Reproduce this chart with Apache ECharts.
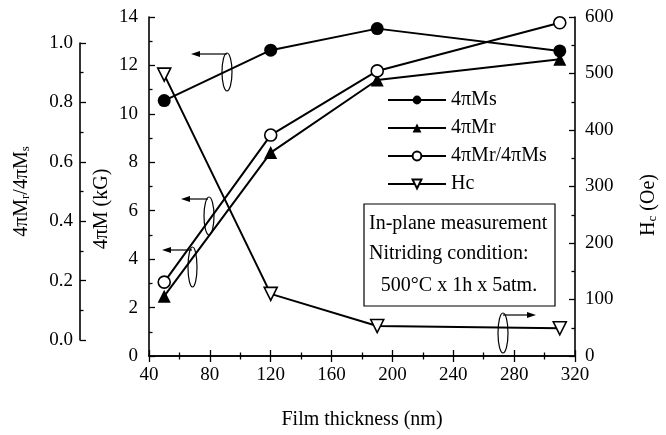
<!DOCTYPE html>
<html><head><meta charset="utf-8">
<script src="https://cdn.jsdelivr.net/npm/echarts@6/dist/echarts.min.js"></script>
<style>html,body{margin:0;padding:0;background:#fff}#c{width:666px;height:435px}</style>
</head><body><div id="c"></div>
<script>
var thickness = [50, 120, 190, 310];
var ms = [10.55, 12.63, 13.52, 12.6];
var mr = [2.47, 8.4, 11.4, 12.26];
var ratio = [0.195, 0.69, 0.906, 1.068];
var hc = [498, 110, 53, 49];
var xTicks = [40, 320, 40];
var names = ['4\u03c0Ms', '4\u03c0Mr', '4\u03c0Mr/4\u03c0Ms', 'Hc'];

function pairs(xs, ys) { return xs.map(function (x, i) { return [x, ys[i]]; }); }
var F = 'Liberation Serif';
var black = '#000';
function axisCommon(extra) {
  var a = {
    axisLine: { show: true, lineStyle: { color: black, width: 1.6 } },
    axisTick: { show: true, inside: true, length: 6, lineStyle: { color: black, width: 1.3 } },
    minorTick: { show: true, splitNumber: 2, length: 3.5, lineStyle: { color: black, width: 1.3 } },
    splitLine: { show: false },
    axisLabel: { color: black, fontFamily: F, fontSize: 19 }
  };
  for (var k in extra) a[k] = extra[k];
  return a;
}
var chart = echarts.init(document.getElementById('c'), null, { renderer: 'canvas' });
var lineStyle = { color: black, width: 2 };
chart.setOption({
  backgroundColor: '#fff',
  animation: false,
  grid: [
    { left: 149, right: 91, top: 17, bottom: 72 },
    { left: 149, right: 91, top: 43, bottom: 95 }
  ],
  xAxis: [
    axisCommon({ gridIndex: 0, type: 'value', min: xTicks[0], max: xTicks[1], interval: xTicks[2], position: 'bottom',
      axisLabel: { color: black, fontFamily: F, fontSize: 19, margin: 10 },
      name: 'Film thickness (nm)', nameLocation: 'middle', nameGap: 54,
      nameTextStyle: { color: black, fontFamily: F, fontSize: 20 } }),
    axisCommon({ gridIndex: 0, type: 'value', min: xTicks[0], max: xTicks[1], interval: xTicks[2], position: 'top',
      axisLabel: { show: false } }),
    { gridIndex: 1, type: 'value', min: xTicks[0], max: xTicks[1], show: false }
  ],
  yAxis: [
    axisCommon({ gridIndex: 0, type: 'value', min: 0, max: 14, interval: 2, position: 'left',
      axisLabel: { color: black, fontFamily: F, fontSize: 19, margin: 11 } }),
    axisCommon({ gridIndex: 0, type: 'value', min: 0, max: 600, interval: 100, position: 'right',
      axisLabel: { color: black, fontFamily: F, fontSize: 19, margin: 10 } }),
    axisCommon({ gridIndex: 1, type: 'value', min: 0, max: 1, interval: 0.2, position: 'left', offset: 69,
      axisLabel: { color: black, fontFamily: F, fontSize: 19, margin: 7, formatter: function (v) { return v.toFixed(1); } },
      name: '{a|4\u03c0M}{s|r}{a|/4\u03c0M}{s|s}', nameLocation: 'middle', nameGap: 48, nameRotate: 90,
      nameTextStyle: { color: black, fontFamily: F, fontSize: 20,
        rich: { a: { fontFamily: F, fontSize: 20, color: black }, s: { fontFamily: F, fontSize: 13, color: black, padding: [8, 0, 0, 0] } } } })
  ],
  legend: {
    orient: 'vertical', left: 382, top: 85, itemWidth: 58, itemHeight: 11, itemGap: 8,
    textStyle: { color: black, fontFamily: F, fontSize: 20 },
    data: names
  },
  series: [
    { name: names[0], type: 'line', xAxisIndex: 0, yAxisIndex: 0, data: pairs(thickness, ms),
      symbol: 'circle', symbolSize: 13, itemStyle: { color: black }, lineStyle: lineStyle },
    { name: names[1], type: 'line', xAxisIndex: 0, yAxisIndex: 0, data: pairs(thickness, mr),
      symbol: 'triangle', symbolSize: 13, itemStyle: { color: black }, lineStyle: lineStyle },
    { name: names[2], type: 'line', xAxisIndex: 2, yAxisIndex: 2, data: pairs(thickness, ratio), clip: false,
      symbol: 'circle', symbolSize: 12, itemStyle: { color: '#fff', borderColor: black, borderWidth: 1.6 }, lineStyle: lineStyle },
    { name: names[3], type: 'line', xAxisIndex: 0, yAxisIndex: 1, data: pairs(thickness, hc),
      symbol: 'triangle', symbolRotate: 180, symbolSize: 13, itemStyle: { color: '#fff', borderColor: black, borderWidth: 1.6 }, lineStyle: lineStyle }
  ],
  graphic: [
    { type: 'text', x: 102, y: 209, rotation: Math.PI / 2,
      style: { text: '4\u03c0M (kG)', fill: black, font: '20px "Liberation Serif"', textAlign: 'center', textVerticalAlign: 'middle' } },
    { type: 'text', x: 649, y: 205, rotation: Math.PI / 2,
      style: { text: '{a|H}{s|c}{a| (Oe)}', fill: black, textAlign: 'center', textVerticalAlign: 'middle',
        rich: { a: { fontFamily: F, fontSize: 20, fill: black }, s: { fontFamily: F, fontSize: 13, fill: black, padding: [8, 0, 0, 0] } } } },
    { type: 'rect', shape: { x: 364, y: 204, width: 191, height: 102 }, style: { fill: '#fff', stroke: black, lineWidth: 1.2 } },
    { type: 'text', x: 369, y: 224, style: { text: 'In-plane measurement', fill: black, font: '20px "Liberation Serif"', textAlign: 'left', textVerticalAlign: 'middle' } },
    { type: 'text', x: 369, y: 254, style: { text: 'Nitriding condition:', fill: black, font: '20px "Liberation Serif"', textAlign: 'left', textVerticalAlign: 'middle' } },
    { type: 'text', x: 459, y: 286, style: { text: '500\u00b0C x 1h x 5atm.', fill: black, font: '20px "Liberation Serif"', textAlign: 'center', textVerticalAlign: 'middle' } },
    { type: 'ellipse', shape: { cx: 227, cy: 72, rx: 5, ry: 19 }, style: { fill: null, stroke: black, lineWidth: 1.2 } },
    { type: 'line', shape: { x1: 227, y1: 54, x2: 198, y2: 54 }, style: { stroke: black, lineWidth: 1.2 } },
    { type: 'polygon', shape: { points: [[191, 54], [200, 51], [200, 57]] }, style: { fill: black } },
    { type: 'ellipse', shape: { cx: 209, cy: 216, rx: 5, ry: 19 }, style: { fill: null, stroke: black, lineWidth: 1.2 } },
    { type: 'line', shape: { x1: 208, y1: 199, x2: 188, y2: 199 }, style: { stroke: black, lineWidth: 1.2 } },
    { type: 'polygon', shape: { points: [[181, 199], [190, 196], [190, 202]] }, style: { fill: black } },
    { type: 'ellipse', shape: { cx: 192.5, cy: 267, rx: 4.5, ry: 20 }, style: { fill: null, stroke: black, lineWidth: 1.2 } },
    { type: 'line', shape: { x1: 192, y1: 250, x2: 169, y2: 250 }, style: { stroke: black, lineWidth: 1.2 } },
    { type: 'polygon', shape: { points: [[162, 250], [171, 247], [171, 253]] }, style: { fill: black } },
    { type: 'ellipse', shape: { cx: 503, cy: 333, rx: 5, ry: 20 }, style: { fill: null, stroke: black, lineWidth: 1.2 } },
    { type: 'line', shape: { x1: 503, y1: 315, x2: 529, y2: 315 }, style: { stroke: black, lineWidth: 1.2 } },
    { type: 'polygon', shape: { points: [[536, 315], [527, 312], [527, 318]] }, style: { fill: black } }
  ]
});
</script></body></html>
